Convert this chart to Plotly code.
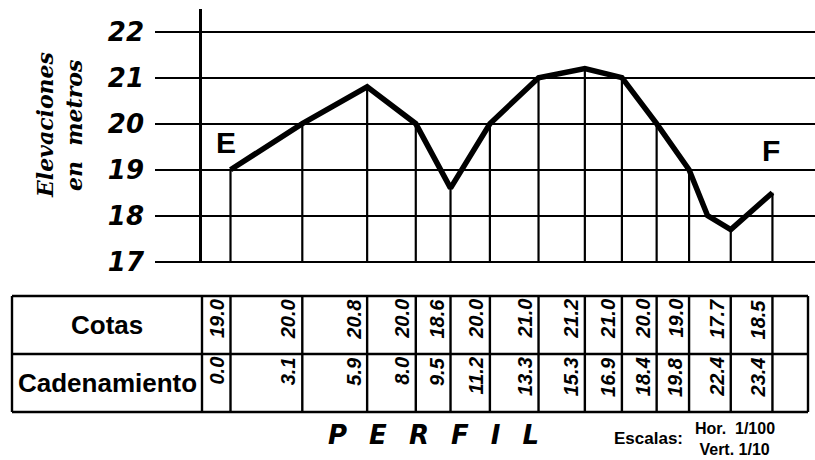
import plotly.graph_objects as go

# ---------------- data ----------------
# chainage of each station as drawn on the profile (m)
cadenamiento = [0.0, 3.1, 5.9, 8.0, 9.5, 11.2, 13.3, 15.3, 16.9, 18.4, 19.8, 21.6, 23.4]
# chainage labels written in the table
cadenamiento_labels = ["0.0", "3.1", "5.9", "8.0", "9.5", "11.2", "13.3",
                       "15.3", "16.9", "18.4", "19.8", "22.4", "23.4"]
# elevations (cotas) of each station (m)
cotas = [19.0, 20.0, 20.8, 20.0, 18.6, 20.0, 21.0, 21.2, 21.0, 20.0, 19.0, 17.7, 18.5]
cotas_labels = ["19.0", "20.0", "20.8", "20.0", "18.6", "20.0", "21.0",
                "21.2", "21.0", "20.0", "19.0", "17.7", "18.5"]
# an extra break point of the profile line (no station)
quiebre_cad = [20.6]
quiebre_cota = [18.0]
# elevation axis
elev_ticks = [17, 18, 19, 20, 21, 22]
elev_tick_labels = ["17", "18", "19", "20", "21", "22"]
punto_inicio = "E"
punto_fin = "F"

# ---------------- layout helpers ----------------
W, H = 815, 460
X0_PX, PX_PER_M = 230.5, 23.16        # horizontal scale
Y17_PX, PX_PER_ELEV = 261.7, 46.0     # vertical scale


def ch(px):
    return (px - X0_PX) / PX_PER_M


def elev(py):
    return 17 + (Y17_PX - py) / PX_PER_ELEV


def py(v):
    return (H - v) / H


def pxp(v):
    return v / W


BLACK = "black"

# profile (stations + break points, sorted by chainage)
prof = sorted(list(zip(cadenamiento, cotas)) + list(zip(quiebre_cad, quiebre_cota)))
prof_x = [p[0] for p in prof]
prof_y = [p[1] for p in prof]

base = elev_ticks[0]
vx, vy = [], []
for c, z in zip(cadenamiento, cotas):
    vx += [c, c, None]
    vy += [base, z, None]

fig = go.Figure()
fig.add_trace(go.Scatter(x=vx, y=vy, mode="lines", line=dict(color=BLACK, width=2.2),
                         hoverinfo="skip", showlegend=False))
fig.add_trace(go.Scatter(x=prof_x, y=prof_y, mode="lines",
                         line=dict(color=BLACK, width=5.5), showlegend=False))

# ---------------- table (x2 / y2) ----------------
t_left, t_col, t_right = ch(12), ch(202), ch(808)
tx, ty = [], []
for c in [t_left, t_col] + cadenamiento + [t_right]:
    tx += [c, c, None]
    ty += [0, 2, None]
for r in [0, 1, 2]:
    tx += [t_left, t_right, None]
    ty += [r, r, None]
fig.add_trace(go.Scatter(x=tx, y=ty, xaxis="x2", yaxis="y2", mode="lines",
                         line=dict(color=BLACK, width=2.4), hoverinfo="skip",
                         showlegend=False))

ann = []
numfont = dict(family="Liberation Sans", size=20, color=BLACK, weight="bold", style="italic")
for c, zl, cl in zip(cadenamiento, cotas_labels, cadenamiento_labels):
    ann.append(dict(x=c, y=2, xref="x2", yref="y2", text=zl, textangle=-90,
                    showarrow=False, xanchor="right", yanchor="top",
                    xshift=-1, yshift=-1, font=numfont))
    ann.append(dict(x=c, y=1, xref="x2", yref="y2", text=cl, textangle=-90,
                    showarrow=False, xanchor="right", yanchor="top",
                    xshift=-1, yshift=-1, font=numfont))
rowfont = dict(family="Liberation Sans", size=26, color=BLACK, weight="bold")
ann.append(dict(x=(t_left + t_col) / 2, y=1.5, xref="x2", yref="y2", text="Cotas",
                showarrow=False, xanchor="center", yanchor="middle", font=rowfont))
ann.append(dict(x=(t_left + t_col) / 2, y=0.5, xref="x2", yref="y2", text="Cadenamiento",
                showarrow=False, xanchor="center", yanchor="middle", font=rowfont))

# axis title (two rotated lines)
titlefont = dict(family="DejaVu Serif", size=22, color=BLACK, style="italic", weight="bold")
ann.append(dict(x=pxp(45), y=py(125), xref="paper", yref="paper", text="Elevaciones",
                textangle=-90, showarrow=False, xanchor="center", yanchor="middle",
                font=titlefont))
ann.append(dict(x=pxp(74), y=py(126), xref="paper", yref="paper",
                text="en\u00a0\u00a0metros", textangle=-90, showarrow=False,
                xanchor="center", yanchor="middle", font=titlefont))

# E / F labels
lblfont = dict(family="Liberation Sans", size=30, color=BLACK, weight="bold")
ann.append(dict(x=cadenamiento[0], y=cotas[0], text=punto_inicio, showarrow=False,
                xanchor="center", yanchor="middle", xshift=-5, yshift=27, font=lblfont))
ann.append(dict(x=cadenamiento[-1], y=cotas[-1], text=punto_fin, showarrow=False,
                xanchor="center", yanchor="middle", xshift=-1, yshift=42, font=lblfont))

# bottom texts
sep = "\u2002\u00a0"
ann.append(dict(x=pxp(433.5), y=py(435), xref="paper", yref="paper",
                text=sep.join(list("PERFIL")), showarrow=False,
                xanchor="center", yanchor="middle",
                font=dict(family="DejaVu Sans", size=26, color=BLACK, weight="bold",
                          style="italic")))
smallfont = dict(family="Liberation Sans", size=17, color=BLACK, weight="bold")
ann.append(dict(x=pxp(612), y=py(438), xref="paper", yref="paper", text="Escalas:",
                showarrow=False, xanchor="left", yanchor="middle", font=smallfont))
ann.append(dict(x=pxp(693), y=py(439), xref="paper", yref="paper",
                text="Hor.\u00a0 1/100<br>\u00a0Vert. 1/10", align="left",
                showarrow=False, xanchor="left", yanchor="middle",
                font=dict(family="Liberation Sans", size=16, color=BLACK, weight="bold")))

shapes = [dict(type="line", xref="paper", yref="paper", x0=pxp(200.5), x1=pxp(200.5),
               y0=py(9), y1=py(262.5), line=dict(color=BLACK, width=3))]

fig.update_layout(
    width=W, height=H, margin=dict(l=0, r=0, t=0, b=0),
    paper_bgcolor="white", plot_bgcolor="white", showlegend=False,
    xaxis=dict(domain=[pxp(155), 1], range=[ch(155), ch(815)], showgrid=False,
               zeroline=False, showticklabels=False, showline=False, anchor="y"),
    yaxis=dict(domain=[py(263), py(8)], range=[elev(263), elev(8)], tickvals=elev_ticks,
               ticktext=elev_tick_labels, showgrid=True, gridcolor=BLACK, gridwidth=2.4,
               zeroline=False, showline=False, ticks="", ticklabelstandoff=10,
               automargin=False, anchor="x",
               tickfont=dict(family="DejaVu Sans", size=26, color=BLACK, weight="bold",
                             style="italic")),
    xaxis2=dict(domain=[0, 1], range=[ch(0), ch(815)], anchor="y2", visible=False),
    yaxis2=dict(domain=[py(416), py(292)], range=[-4 / 58, 2 + 4 / 58], anchor="x2",
                visible=False),
    annotations=ann, shapes=shapes,
)

fig.write_html("out.html", config={"displayModeBar": False},
               post_script="document.body.style.margin='0';document.body.style.padding='0';"
                           "document.body.style.overflow='hidden';")
